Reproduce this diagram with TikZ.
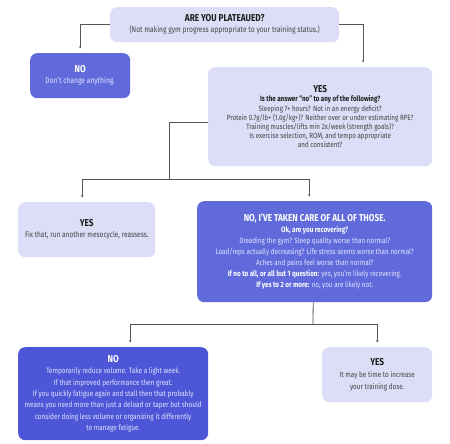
\documentclass[tikz,border=0pt]{standalone}
\usepackage{fontspec}
\setmainfont{Fira Sans}[FakeStretch=0.82]
\usetikzlibrary{arrows.meta,calc}
\definecolor{lav}{HTML}{DCDDF6}
\definecolor{mid}{HTML}{606ADB}
\definecolor{deep}{HTML}{4C56D6}
\definecolor{ink}{HTML}{1E1E1E}
\definecolor{soft}{HTML}{444444}
\definecolor{pale}{HTML}{E2E5FF}
\definecolor{wire}{HTML}{555555}
\newcommand{\hd}{\fontsize{10}{12}\selectfont\bfseries}
\tikzset{
  box/.style={rectangle, rounded corners=7pt, inner sep=0pt, align=center, anchor=north west},
  lightbox/.style={box, fill=lav, text=soft},
  darkbox/.style={box, fill=mid, text=pale},
  deepbox/.style={box, fill=deep, text=pale},
  wireline/.style={draw=wire, line width=0.8pt},
  conn/.style={wireline, -{Stealth[length=2.2pt,width=2.4pt]}, shorten >=4.5pt},
}
\begin{document}
\begin{tikzpicture}[x=1pt,y=-1pt]
\useasboundingbox (0,0) rectangle (450,444);
% boxes
\node[lightbox, minimum width=229pt, minimum height=35pt, font=\fontsize{8.2}{11}\selectfont] (top) at (110,7)
  {{\hd\color{ink}ARE YOU PLATEAUED?}\\(Not making gym progress appropriate to your training status.)};
\node[darkbox, minimum width=100pt, minimum height=45pt, font=\fontsize{8.2}{11}\selectfont] (no1) at (30,53)
  {{\hd\color{white}NO}\\Don't change anything.};
\node[lightbox, minimum width=224pt, minimum height=99pt, font=\fontsize{7.6}{9.2}\selectfont] (yes1) at (208,67)
  {{\hd\color{ink}YES}\\
   {\bfseries\color{ink}Is the answer ``no'' to any of the following?}\\
   Sleeping 7+ hours? Not in an energy deficit?\\
   Protein 0.7g/lb+ (1.6g/kg+)? Neither over or under estimating RPE?\\
   Training muscles/lifts min 2x/week (strength goals)?\\
   Is exercise selection, ROM, and tempo appropriate\\
   and consistent?};
\node[lightbox, minimum width=137pt, minimum height=55pt, font=\fontsize{8}{11}\selectfont] (yes2) at (18,202)
  {{\hd\color{ink}YES}\\Fix that, run another mesocycle, reassess.};
\node[darkbox, minimum width=235pt, minimum height=101pt, font=\fontsize{7.7}{11}\selectfont] (no2) at (197,201)
  {{\hd\color{white}NO, I'VE TAKEN CARE OF ALL OF THOSE.}\\
   {\bfseries\color{white}Ok, are you recovering?}\\
   Dreading the gym? Sleep quality worse than normal?\\
   Load/reps actually decreasing? Life stress seems worse than normal?\\
   Aches and pains feel worse than normal?\\
   {\bfseries\color{white}If no to all, or all but 1 question:} yes, you're likely recovering.\\
   {\bfseries\color{white}If yes to 2 or more:} no, you are likely not.};
\node[deepbox, minimum width=190pt, minimum height=93pt, font=\fontsize{7.8}{11.4}\selectfont] (no3) at (18,347)
  {{\hd\color{white}NO}\\
   Temporarily reduce volume. Take a light week.\\
   If that improved performance then great.\\
   If you quickly fatigue again and stall then that probably\\
   means you need more than just a deload or taper but should\\
   consider doing less volume or organizing it differently\\
   to manage fatigue.};
\node[lightbox, minimum width=110pt, minimum height=55pt, font=\fontsize{7.8}{12}\selectfont] (yes3) at (322,347)
  {{\hd\color{ink}YES}\\
   It may be time to increase\\
   your training dose.};
% junction points
\coordinate (jr) at (363,67);
\coordinate (j2) at (169,179);
\coordinate (j3) at (313,324);
% connectors
\draw[conn] (top.west) -| (no1.north);
\draw[conn] (top.east) -| (jr);
\draw[wireline] ([yshift=-5.5pt]yes1.west) -| (j2);
\draw[conn] (j2) -| ([xshift=-4.5pt]yes2.north);
\draw[conn] (j2) -| ([xshift=-5.5pt]no2.north);
\draw[wireline] ([xshift=-1.5pt]no2.south) -- (j3);
\draw[conn] (j3) -| ([xshift=17pt]no3.north);
\draw[conn] (j3) -| (yes3.north);
\end{tikzpicture}
\end{document}
